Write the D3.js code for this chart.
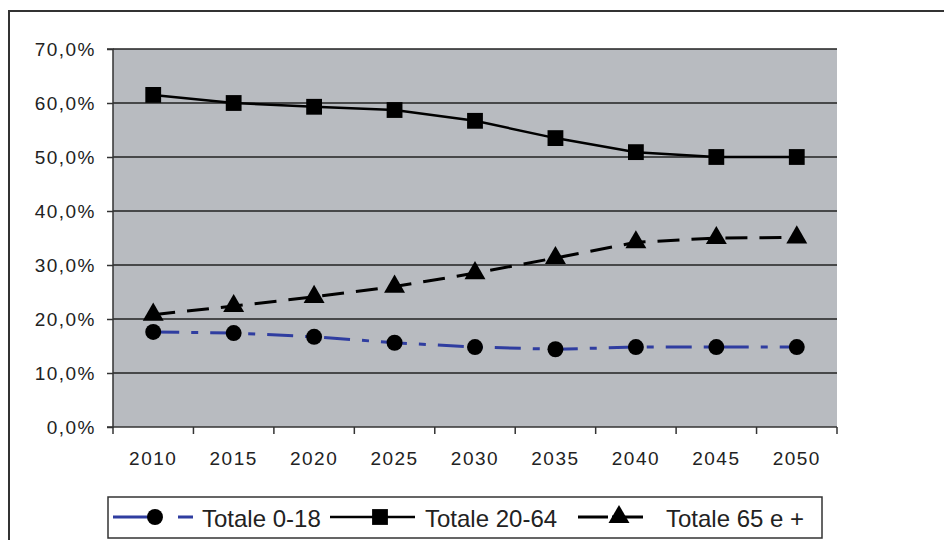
<!DOCTYPE html>
<html><head><meta charset="utf-8">
<script src="https://cdn.jsdelivr.net/npm/d3@7"></script>
<style>body{margin:0;background:#fff}svg{display:block}</style>
</head><body>
<svg id="c" width="944" height="540"></svg>
<script>
const years = ["2010","2015","2020","2025","2030","2035","2040","2045","2050"];
const totale0_18 = [17.6,17.4,16.7,15.6,14.8,14.4,14.8,14.8,14.8];
const totale20_64 = [61.5,60.0,59.3,58.7,56.7,53.5,50.9,50.0,50.0];
const totale65 = [20.8,22.4,24.1,26.0,28.5,31.3,34.2,35.0,35.1];
const yTicks = [0,10,20,30,40,50,60,70];
const seriesNames = ["Totale 0-18","Totale 20-64","Totale 65 e +"];

const svg = d3.select("#c");
const L=113,R=837,T=49,B=427;
const x = d3.scaleBand().domain(years).range([L,R]);
const y = d3.scaleLinear().domain([0,70]).range([B,T]);
const font = "'Liberation Sans', Arial, sans-serif";

// outer frame
svg.append("path").attr("d",`M9,540 V11 H950`).attr("fill","none").attr("stroke","#333").attr("stroke-width",2);

// plot area
svg.append("rect").attr("x",L).attr("y",T).attr("width",R-L).attr("height",B-T).attr("fill","#b8bbc0");

// gridlines
svg.append("g").selectAll("line").data(yTicks.filter(d=>d>0)).join("line")
  .attr("x1",L).attr("x2",R).attr("y1",d=>y(d)).attr("y2",d=>y(d))
  .attr("stroke","#222").attr("stroke-width",1.5);

// y axis
const ya = svg.append("g").attr("transform",`translate(${L},0)`)
  .call(d3.axisLeft(y).tickValues(yTicks).tickSize(6).tickPadding(11)
    .tickFormat(d=>d.toFixed(1).replace(".",",")+"%"));
ya.selectAll("text").attr("font-family",font).attr("font-size",19).attr("letter-spacing","1.5px").attr("fill","#222");
ya.selectAll("line,path").attr("stroke","#333").attr("stroke-width",1.5);
ya.select(".domain").attr("d",`M-6,${T}H0V${B}H-6`);

// x axis
const xa = svg.append("g").attr("transform",`translate(0,${B})`)
  .call(d3.axisBottom(x).tickSize(0).tickPadding(25));
xa.selectAll("text").attr("font-family",font).attr("font-size",19).attr("letter-spacing","1.5px").attr("fill","#222");
xa.select(".domain").attr("stroke","#333").attr("stroke-width",1.5).attr("d",`M${L},0H${R}`);
const bounds = years.map(d=>x(d)).concat([R]);
xa.append("g").selectAll("line").data(bounds).join("line")
  .attr("x1",d=>d).attr("x2",d=>d).attr("y1",0).attr("y2",7)
  .attr("stroke","#333").attr("stroke-width",1.5);

const cx = d=>x(d)+x.bandwidth()/2;
const line = d3.line().x(d=>cx(d.year)).y(d=>y(d.v));
const mk = arr=>years.map((yr,i)=>({year:yr,v:arr[i]}));

const styles = [
  {data:totale0_18,color:"#2f3da0",dash:"26,12,7,12",w:3,sym:d3.symbolCircle,size:200},
  {data:totale20_64,color:"#000",dash:null,w:2.5,sym:d3.symbolSquare,size:250},
  {data:totale65,color:"#000",dash:"22,12",w:3,sym:d3.symbolTriangle,size:190}
];

styles.forEach(s=>{
  svg.append("path").datum(mk(s.data)).attr("d",line).attr("fill","none")
    .attr("stroke",s.color).attr("stroke-width",s.w).attr("stroke-dasharray",s.dash);
});
styles.forEach(s=>{
  svg.append("g").selectAll("path").data(mk(s.data)).join("path")
    .attr("transform",d=>`translate(${cx(d.year)},${y(d.v)})`)
    .attr("d",d3.symbol().type(s.sym).size(s.size)).attr("fill","#000");
});

// legend
const lg = svg.append("g");
lg.append("rect").attr("x",108).attr("y",497).attr("width",714).attr("height",41)
  .attr("fill","#fff").attr("stroke","#333").attr("stroke-width",1.5);
const legItems = [
  {x1:113,x2:193,m:155,tx:202,dash:"40,25,15"},
  {x1:330,x2:415,m:380,tx:425,dash:null},
  {x1:578,x2:643,m:619,tx:666,dash:"30,4,40"}
];
styles.forEach((s,i)=>{
  const it = legItems[i], ly=517;
  const g = lg.append("g");
  g.append("line").attr("x1",it.x1).attr("x2",it.x2).attr("y1",ly).attr("y2",ly)
    .attr("stroke",s.color).attr("stroke-width",s.w).attr("stroke-dasharray",it.dash);
  g.append("path").attr("transform",`translate(${it.m},${ly})`)
    .attr("d",d3.symbol().type(s.sym).size(s.size)).attr("fill","#000");
  g.append("text").attr("x",it.tx).attr("y",527).text(seriesNames[i])
    .attr("font-family",font).attr("font-size",24).attr("fill","#222");
});
</script>
</body></html>
